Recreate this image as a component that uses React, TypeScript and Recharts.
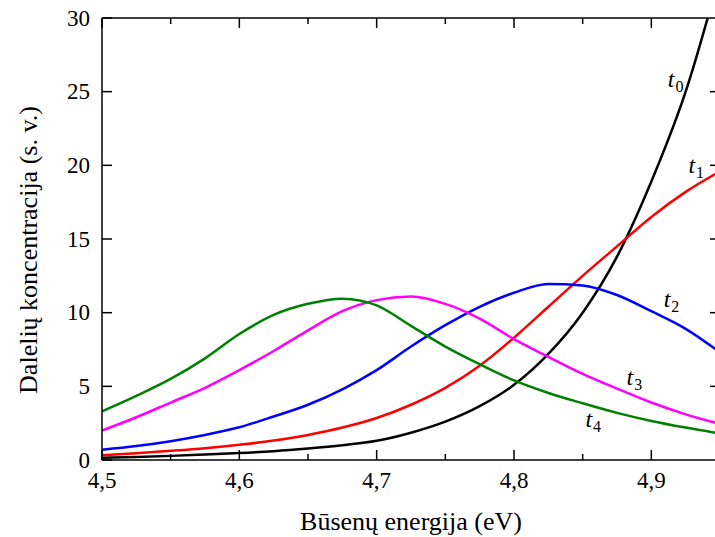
import { LineChart, Line, XAxis, YAxis, ReferenceDot, Label } from "recharts";

// energy grid (eV) and particle concentration (arb. units) for t0..t4
const energy = [
  4.5, 4.525, 4.55, 4.575, 4.6, 4.625, 4.65, 4.675, 4.7, 4.725, 4.75, 4.775, 4.8, 4.825, 4.85, 4.875, 4.9,
  4.925, 4.95,
];
const t0 = [0.16, 0.21, 0.28, 0.37, 0.47, 0.6, 0.78, 1.0, 1.3, 1.85, 2.6, 3.65, 5.1, 7.2, 10.0, 13.8, 18.9, 25.0, 33];
const t1 = [0.33, 0.46, 0.62, 0.8, 1.03, 1.32, 1.7, 2.2, 2.85, 3.75, 4.9, 6.4, 8.3, 10.4, 12.5, 14.5, 16.5, 18.2, 19.6];
const t2 = [0.7, 0.95, 1.28, 1.7, 2.22, 2.95, 3.75, 4.8, 6.1, 7.7, 9.15, 10.4, 11.35, 11.95, 11.85, 11.2, 10.1, 8.9, 7.3];
const t3 = [2.0, 2.9, 3.9, 4.9, 6.1, 7.4, 8.8, 10.1, 10.85, 11.1, 10.6, 9.6, 8.2, 7.0, 5.85, 4.85, 3.9, 3.1, 2.45];
const t4 = [3.3, 4.35, 5.5, 6.9, 8.55, 9.85, 10.6, 10.95, 10.5, 9.1, 7.7, 6.5, 5.4, 4.55, 3.85, 3.2, 2.65, 2.2, 1.8];

const xTicks = [4.5, 4.55, 4.6, 4.65, 4.7, 4.75, 4.8, 4.85, 4.9, 4.95];
const yTicks = [0, 5, 10, 15, 20, 25, 30];

const curveLabels = [
  { sub: "0", x: 4.912, y: 25.3 },
  { sub: "1", x: 4.927, y: 19.5 },
  { sub: "2", x: 4.909, y: 10.4 },
  { sub: "3", x: 4.882, y: 5.1 },
  { sub: "4", x: 4.852, y: 2.25 },
];

const series = [
  { key: "t0", color: "#000000" },
  { key: "t1", color: "#ff0000" },
  { key: "t2", color: "#0000ff" },
  { key: "t3", color: "#ff00ff" },
  { key: "t4", color: "#008000" },
];

const data = energy.map((e, i) => ({ e, t0: t0[i], t1: t1[i], t2: t2[i], t3: t3[i], t4: t4[i] }));

const FONT = "'Liberation Serif', 'Times New Roman', serif";
const TOP = 18;
const BOTTOM = 460;
const LEFT = 102;
const RIGHT = 720;

const isMajor = (v: number) => Math.round(v * 100) % 10 === 0;

const BottomTick = ({ x, payload }: any) => {
  const v = payload.value;
  const major = isMajor(v);
  return (
    <g>
      <line x1={x} x2={x} y1={BOTTOM} y2={BOTTOM - (major ? 10 : 6)} stroke="#000" strokeWidth={1.5} />
      {major && (
        <text x={x} y={488} textAnchor="middle" fontFamily={FONT} fontSize={23} fill="#000">
          {v.toFixed(1).replace(".", ",")}
        </text>
      )}
    </g>
  );
};

const TopTick = ({ x, payload }: any) => (
  <line x1={x} x2={x} y1={TOP} y2={TOP + (isMajor(payload.value) ? 10 : 6)} stroke="#000" strokeWidth={1.5} />
);

const LeftTick = ({ y, payload }: any) => (
  <g>
    <line x1={LEFT} x2={LEFT + 10} y1={y} y2={y} stroke="#000" strokeWidth={1.5} />
    <text x={90} y={y + 7.6} textAnchor="end" fontFamily={FONT} fontSize={23} fill="#000">
      {payload.value}
    </text>
  </g>
);

const RightTick = ({ y }: any) => <line x1={RIGHT} x2={RIGHT - 10} y1={y} y2={y} stroke="#000" strokeWidth={1.5} />;

export default function App() {
  return (
    <div
      style={{
        position: "absolute",
        left: 0,
        top: 0,
        width: 715,
        height: 537,
        overflow: "hidden",
        background: "#fff",
        fontFamily: FONT,
      }}
    >
      <LineChart width={730} height={537} data={data} margin={{ top: 16, right: 0, left: 42, bottom: 37 }}>
        <XAxis
          xAxisId="b"
          dataKey="e"
          type="number"
          domain={[4.5, 4.95]}
          allowDataOverflow
          ticks={xTicks}
          interval={0}
          tick={BottomTick}
          tickLine={false}
          axisLine={{ stroke: "#000", strokeWidth: 1.5 }}
          height={40}
        >
          <Label
            value="Būsenų energija (eV)"
            position="bottom"
            offset={12}
            style={{ fontFamily: FONT, fontSize: 26, fill: "#000" }}
          />
        </XAxis>
        <XAxis
          xAxisId="t"
          orientation="top"
          dataKey="e"
          type="number"
          domain={[4.5, 4.95]}
          allowDataOverflow
          ticks={xTicks}
          interval={0}
          tick={TopTick}
          tickLine={false}
          axisLine={{ stroke: "#000", strokeWidth: 1.5 }}
          height={2}
        />
        <YAxis
          yAxisId="l"
          type="number"
          domain={[0, 30]}
          allowDataOverflow
          ticks={yTicks}
          interval={0}
          tick={LeftTick}
          tickLine={false}
          axisLine={{ stroke: "#000", strokeWidth: 1.5 }}
          width={60}
        >
          <Label
            content={() => (
              <text
                x={28}
                y={250}
                transform="rotate(-90 28 250)"
                textAnchor="middle"
                dominantBaseline="central"
                fontFamily={FONT}
                fontSize={26}
                fill="#000"
              >
                Dalelių koncentracija (s. v.)
              </text>
            )}
          />
        </YAxis>
        <YAxis
          yAxisId="r"
          orientation="right"
          type="number"
          domain={[0, 30]}
          allowDataOverflow
          ticks={[5, 10, 15, 20, 25]}
          interval={0}
          tick={RightTick}
          tickLine={false}
          axisLine={{ stroke: "#000", strokeWidth: 1.5 }}
          width={10}
        />
        {series.map((s) => (
          <Line
            key={s.key}
            xAxisId="b"
            yAxisId="l"
            dataKey={s.key}
            type="monotone"
            stroke={s.color}
            strokeWidth={2.5}
            dot={false}
            activeDot={false}
            isAnimationActive={false}
          />
        ))}
        {curveLabels.map((c) => (
          <ReferenceDot
            key={c.sub}
            xAxisId="b"
            yAxisId="l"
            x={c.x}
            y={c.y}
            r={0}
            shape={(p: any) => (
              <text x={p.cx} y={p.cy} fontFamily={FONT} fill="#000">
                <tspan fontStyle="italic" fontSize={24}>
                  t
                </tspan>
                <tspan fontSize={16} dx={1} dy={5}>
                  {c.sub}
                </tspan>
              </text>
            )}
          />
        ))}
      </LineChart>
    </div>
  );
}
